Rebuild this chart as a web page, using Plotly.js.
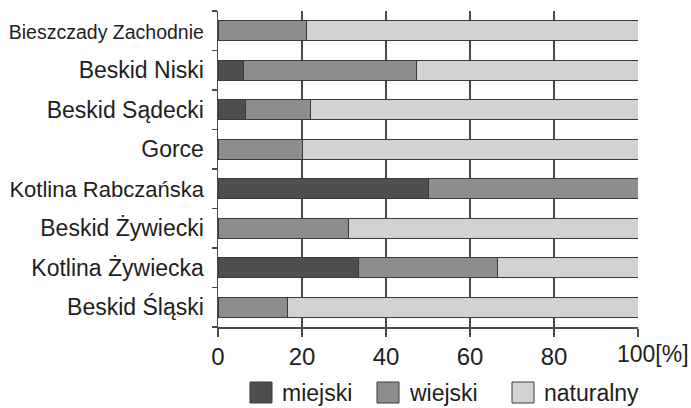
<!DOCTYPE html>
<html>
<head>
<meta charset="utf-8">
<script src="https://cdn.plot.ly/plotly-3.0.1.min.js"></script>
<style>
html,body{margin:0;padding:0;background:#ffffff;}
#chart{width:691px;height:408px;}
</style>
</head>
<body>
<div id="chart"></div>
<script>
// Regions (top to bottom)
var categories = ["Bieszczady Zachodnie", "Beskid Niski", "Beskid Sądecki", "Gorce",
                  "Kotlina Rabczańska", "Beskid Żywiecki", "Kotlina Żywiecka", "Beskid Śląski"];
// Shares [%]
var miejski   = [0, 6, 6.5, 0, 50, 0, 33.5, 0];
var wiejski   = [21, 41.3, 15.5, 20, 50, 31, 33, 16.5];
var naturalny = [79, 52.7, 78, 80, 0, 69, 33.5, 83.5];

var seriesNames = ["miejski", "wiejski", "naturalny"];
var seriesColors = ["#4e4e4e", "#8d8d8d", "#d2d2d2"];
var seriesValues = [miejski, wiejski, naturalny];

var xTickVals = [0, 20, 40, 60, 80, 100];
var xTickText = ["0", "20", "40", "60", "80", ""];
var lastTickLabel = "100[%]";

var font = "Liberation Sans, Arial, sans-serif";
var textColor = "#1e1e1e";
var lineColor = "#4a4a4a";

// per-label font size so the long labels fit like in the original
var labelSizes = [19.5, 23, 23, 23, 22, 23, 23, 23];
var yTickText = categories.map(function(c, i){
  return '<span style="font-size:' + labelSizes[i] + 'px">' + c + '</span>';
});

var traces = seriesNames.map(function(name, i){
  return {
    type: "bar",
    orientation: "h",
    name: name,
    y: categories,
    x: seriesValues[i],
    marker: {color: seriesColors[i], line: {color: "#3a3a3a", width: 1}},
    hoverinfo: "x+y+name"
  };
});

// custom legend (large square swatches like the original)
var legendX = [250, 377, 512];  // swatch left edges in px
var shapes = [];
var annotations = [];
var W = 691, H = 408, mL = 218, mR = 53, mT = 11, mB = 81;
var pw = W - mL - mR, ph = H - mT - mB;
function px2paperX(px){ return (px - mL) / pw; }
function px2paperY(py){ return (H - mB - py) / ph; }
seriesNames.forEach(function(name, i){
  shapes.push({
    type: "rect", xref: "paper", yref: "paper",
    x0: px2paperX(legendX[i]), x1: px2paperX(legendX[i] + 22),
    y0: px2paperY(403), y1: px2paperY(382),
    fillcolor: seriesColors[i], line: {color: "#3a3a3a", width: 1}
  });
  annotations.push({
    xref: "paper", yref: "paper",
    x: px2paperX(legendX[i] + 30), y: px2paperY(392.5),
    xanchor: "left", yanchor: "middle", showarrow: false,
    text: name, font: {family: font, size: 23, color: textColor}
  });
});
annotations.push({
  xref: "x", yref: "paper", x: 100, y: px2paperY(354),
  xanchor: "left", yanchor: "middle", xshift: -23, showarrow: false,
  text: lastTickLabel, font: {family: font, size: 23, color: textColor}
});

var layout = {
  width: W, height: H,
  margin: {l: mL, r: mR, t: mT, b: mB, pad: 0},
  paper_bgcolor: "#ffffff",
  plot_bgcolor: "#ffffff",
  barmode: "stack",
  bargap: 0.5,
  showlegend: false,
  font: {family: font, color: textColor},
  xaxis: {
    range: [0, 100],
    tickvals: xTickVals, ticktext: xTickText,
    showgrid: true, gridcolor: lineColor, gridwidth: 1.5,
    zeroline: false,
    showline: true, linecolor: lineColor, linewidth: 1.5,
    ticks: "outside", ticklen: 8, tickcolor: lineColor, tickwidth: 1.5,
    tickfont: {family: font, size: 24, color: textColor},
    fixedrange: true
  },
  yaxis: {
    type: "category",
    autorange: "reversed",
    tickmode: "array", tickvals: categories, ticktext: yTickText,
    showgrid: false, zeroline: false,
    showline: true, linecolor: lineColor, linewidth: 1.5,
    ticks: "outside", ticklen: 5, tickcolor: lineColor, tickwidth: 1.5,
    tickson: "boundaries",
    ticklabelstandoff: 8,
    tickfont: {family: font, size: 23, color: textColor},
    fixedrange: true
  },
  shapes: shapes,
  annotations: annotations
};

Plotly.newPlot("chart", traces, layout, {displayModeBar: false, staticPlot: true});
</script>
</body>
</html>
